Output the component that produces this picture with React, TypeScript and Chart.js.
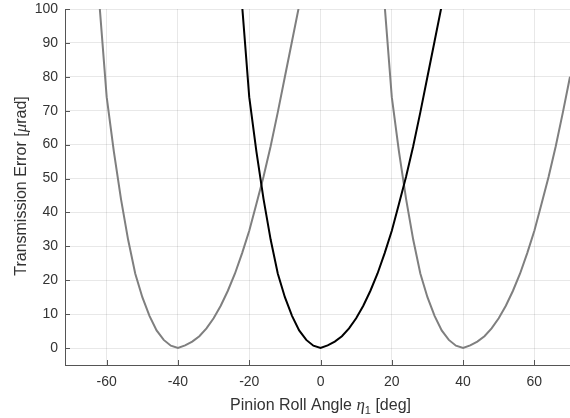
import { useEffect, useRef } from 'react';
import { Chart, registerables } from 'chart.js';

Chart.register(...registerables);

// Transmission-error profile of one tooth mesh
const ANGLE_OFFSETS = [-24, -22, -20, -18, -16, -14, -12, -10, -8, -6, -4, -2, 0, 2, 4, 6, 8, 10, 12, 14, 16, 18, 20, 22, 24, 26, 28, 30, 32, 34, 36];
const TE_PROFILE = [128, 101, 74, 58, 44, 32, 22, 15, 9.5, 5.2, 2.4, 0.7, 0, 0.8, 1.9, 3.5, 5.8, 8.8, 12.5, 16.9, 22, 28, 34.6, 42.5, 50.5, 59.5, 69.5, 80, 90.5, 101, 112];

// Mesh centres (deg) and colours: current mesh in black, neighbours in grey
const MESH_CENTERS = [0, -40, 40];
const MESH_COLORS = ['#000000', '#7f7f7f', '#7f7f7f'];

const X_TICKS = [-60, -40, -20, 0, 20, 40, 60];
const Y_TICKS = [0, 10, 20, 30, 40, 50, 60, 70, 80, 90, 100];
const X_MIN = -71.7;
const X_MAX = 70;
const Y_MIN = -5;
const Y_MAX = 100;

const FONT = '"Liberation Sans", Arial, Helvetica, sans-serif';
const GREEK_FONT = '"Liberation Serif", "Times New Roman", serif';
const TEXT_COLOR = '#333333';
const AXIS_COLOR = '#555555';
const GRID_COLOR = 'rgba(0,0,0,0.09)';

const decorPlugin = {
  id: 'decor',
  afterDraw(chart: any) {
    const { ctx, chartArea, scales } = chart;
    const xs = scales.x;
    const ys = scales.y;
    ctx.save();
    ctx.strokeStyle = AXIS_COLOR;
    ctx.lineWidth = 1;
    ctx.beginPath();
    for (const v of X_TICKS) {
      const px = Math.round(xs.getPixelForValue(v)) + 0.5;
      ctx.moveTo(px, chartArea.bottom);
      ctx.lineTo(px, chartArea.bottom - 5);
    }
    for (const v of Y_TICKS) {
      const py = Math.round(ys.getPixelForValue(v)) + 0.5;
      ctx.moveTo(chartArea.left, py);
      ctx.lineTo(chartArea.left + 5, py);
    }
    ctx.stroke();

    ctx.fillStyle = TEXT_COLOR;
    ctx.textBaseline = 'alphabetic';
    ctx.textAlign = 'left';

    const normal = `16px ${FONT}`;
    const greek = `italic 17px ${GREEK_FONT}`;
    const sub = `11px ${FONT}`;

    // X title: Pinion Roll Angle η1 [deg]
    const p1 = 'Pinion Roll Angle ';
    const p2 = '\u03B7';
    const p3 = '1';
    const p4 = ' [deg]';
    ctx.font = normal;
    const w1 = ctx.measureText(p1).width;
    const w4 = ctx.measureText(p4).width;
    ctx.font = greek;
    const w2 = ctx.measureText(p2).width;
    ctx.font = sub;
    const w3 = ctx.measureText(p3).width;
    const total = w1 + w2 + w3 + w4;
    const cx = xs.getPixelForValue(0);
    const baseY = 410;
    let x0 = cx - total / 2;
    ctx.font = normal;
    ctx.fillText(p1, x0, baseY);
    x0 += w1;
    ctx.font = greek;
    ctx.fillText(p2, x0, baseY);
    x0 += w2;
    ctx.font = sub;
    ctx.fillText(p3, x0, baseY + 4);
    x0 += w3;
    ctx.font = normal;
    ctx.fillText(p4, x0, baseY);

    // Y title: Transmission Error [μrad]
    const q1 = 'Transmission Error [';
    const q2 = '\u03BC';
    const q3 = 'rad]';
    ctx.font = normal;
    const v1 = ctx.measureText(q1).width;
    const v3 = ctx.measureText(q3).width;
    ctx.font = greek;
    const v2 = ctx.measureText(q2).width;
    const ytotal = v1 + v2 + v3;
    ctx.translate(26, 186);
    ctx.rotate(-Math.PI / 2);
    let y0 = -ytotal / 2;
    ctx.font = normal;
    ctx.fillText(q1, y0, 0);
    y0 += v1;
    ctx.font = greek;
    ctx.fillText(q2, y0, 0);
    y0 += v2;
    ctx.font = normal;
    ctx.fillText(q3, y0, 0);
    ctx.restore();
  },
};

export default function App() {
  const ref = useRef<HTMLCanvasElement>(null);

  useEffect(() => {
    const datasets = MESH_CENTERS.map((c, i) => ({
      label: `Mesh ${c}`,
      data: ANGLE_OFFSETS.map((o, k) => ({ x: o + c, y: TE_PROFILE[k] })),
      borderColor: MESH_COLORS[i],
      backgroundColor: MESH_COLORS[i],
      borderWidth: 2,
      pointRadius: 0,
      tension: 0,
      fill: false,
    }));

    const chart = new Chart(ref.current as HTMLCanvasElement, {
      type: 'line',
      data: { datasets },
      plugins: [decorPlugin],
      options: {
        responsive: false,
        animation: false,
        events: [],
        layout: { padding: { top: 9, right: 0, left: 0, bottom: 0 } },
        plugins: {
          legend: { display: false },
          tooltip: { enabled: false },
          title: { display: false },
        },
        scales: {
          x: {
            type: 'linear',
            min: X_MIN,
            max: X_MAX,
            afterBuildTicks: (s: any) => {
              s.ticks = X_TICKS.map((v) => ({ value: v }));
            },
            afterFit: (s: any) => {
              s.height = 53;
              s.paddingLeft = 0;
              s.paddingRight = 0;
            },
            grid: { color: GRID_COLOR, drawTicks: false, lineWidth: 1 },
            border: { display: true, color: AXIS_COLOR, width: 1 },
            ticks: {
              color: TEXT_COLOR,
              font: { family: FONT, size: 14 },
              padding: 9,
              maxRotation: 0,
              autoSkip: false,
              callback: (v: any) => String(v),
            },
          },
          y: {
            type: 'linear',
            min: Y_MIN,
            max: Y_MAX,
            afterBuildTicks: (s: any) => {
              s.ticks = Y_TICKS.map((v) => ({ value: v }));
            },
            afterFit: (s: any) => {
              s.width = 65;
              s.paddingTop = 0;
              s.paddingBottom = 0;
            },
            grid: { color: GRID_COLOR, drawTicks: false, lineWidth: 1 },
            border: { display: true, color: AXIS_COLOR, width: 1 },
            ticks: {
              color: TEXT_COLOR,
              font: { family: FONT, size: 14 },
              padding: 7,
              autoSkip: false,
              callback: (v: any) => String(v),
            },
          },
        },
      },
    });
    return () => chart.destroy();
  }, []);

  return (
    <div style={{ position: 'absolute', left: 0, top: 0, width: 570, height: 418, background: '#ffffff' }}>
      <canvas ref={ref} width={570} height={418} style={{ display: 'block', width: 570, height: 418 }} />
    </div>
  );
}
